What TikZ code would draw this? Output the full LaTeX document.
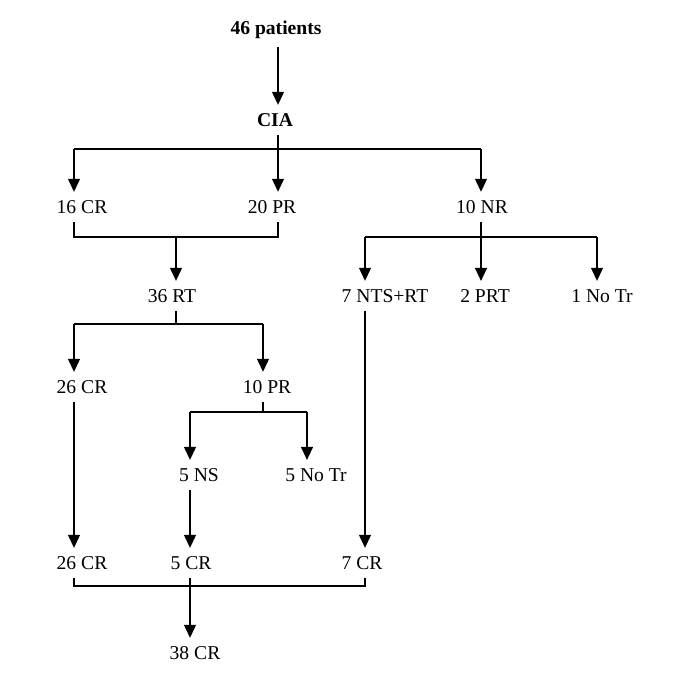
\documentclass[tikz,border=0pt]{standalone}
\usepackage{fontspec}
\setmainfont{Liberation Serif}
\usetikzlibrary{arrows.meta}

\tikzset{
  lbl/.style={inner xsep=0pt, inner ysep=4pt, font=\fontsize{9.8pt}{11pt}\selectfont},
  arr/.style={-{Triangle[length=6.5pt,width=6pt]}},
}

\begin{document}
\begin{tikzpicture}[x=0.5pt, y=-0.5pt, line width=0.6pt]
    \useasboundingbox (0,0) rectangle (685,685);
    % Columns of the connectors
    \coordinate (cA) at (74,0);
    \coordinate (cB) at (176,0);
    \coordinate (cC) at (190,0);
    \coordinate (cD) at (263,0);
    \coordinate (cE) at (278,0);
    \coordinate (cF) at (307,0);
    \coordinate (cG) at (365,0);
    \coordinate (cH) at (481,0);
    \coordinate (cI) at (597,0);
    % Branch rows
    \coordinate (b1) at (0,149);
    \coordinate (b2) at (0,237);
    \coordinate (b3) at (0,324);
    \coordinate (b4) at (0,412);
    \coordinate (b5) at (0,586);
    % Top
    \node[lbl, font=\fontsize{9.8pt}{11pt}\selectfont\bfseries] (pat) at (276,30) {46 patients};
    \node[lbl, font=\fontsize{9.8pt}{11pt}\selectfont\bfseries] (cia) at (275,120) {CIA};
    % Row 1
    \node[lbl] (cr16) at (82,207) {16 CR};
    \node[lbl] (pr20) at (272,207) {20 PR};
    \node[lbl] (nr10) at (482,207) {10 NR};
    % Row 2
    \node[lbl] (rt36) at (172,296) {36 RT};
    \node[lbl] (nts7) at (385,296) {7 NTS+RT};
    \node[lbl] (prt2) at (485,296) {2 PRT};
    \node[lbl] (notr1) at (602,296) {1 No Tr};
    % Row 3
    \node[lbl] (cr26a) at (82,387) {26 CR};
    \node[lbl] (pr10) at (267,387) {10 PR};
    % Row 4
    \node[lbl] (ns5) at (199,475) {5 NS};
    \node[lbl] (notr5) at (316,475) {5 No Tr};
    % Row 5
    \node[lbl] (cr26b) at (82,563) {26 CR};
    \node[lbl] (cr5) at (191,563) {5 CR};
    \node[lbl] (cr7) at (362,563) {7 CR};
    % Bottom
    \node[lbl] (cr38) at (195,653) {38 CR};

    % 46 patients -> CIA
    \draw[arr] (pat.south -| cE) -- (cia.north -| cE);
    % CIA -> CR / PR / NR
    \draw (cia.south -| cE) -- (cE |- b1);
    \draw (cA |- b1) -- (cH |- b1);
    \draw[arr] (cA |- b1) -- (cr16.north -| cA);
    \draw[arr] (cE |- b1) -- (pr20.north -| cE);
    \draw[arr] (cH |- b1) -- (nr10.north -| cH);
    % CR + PR -> RT
    \draw (cr16.south -| cA) -- (cA |- b2) -- (cE |- b2) -- (pr20.south -| cE);
    \draw[arr] (cB |- b2) -- (rt36.north -| cB);
    % NR -> three
    \draw (nr10.south -| cH) -- (cH |- b2);
    \draw (cG |- b2) -- (cI |- b2);
    \draw[arr] (cG |- b2) -- (nts7.north -| cG);
    \draw[arr] (cH |- b2) -- (prt2.north -| cH);
    \draw[arr] (cI |- b2) -- (notr1.north -| cI);
    % RT -> CR / PR
    \draw (rt36.south -| cB) -- (cB |- b3);
    \draw (cA |- b3) -- (cD |- b3);
    \draw[arr] (cA |- b3) -- (cr26a.north -| cA);
    \draw[arr] (cD |- b3) -- (pr10.north -| cD);
    % PR -> NS / No Tr
    \draw (pr10.south -| cD) -- (cD |- b4);
    \draw (cC |- b4) -- (cF |- b4);
    \draw[arr] (cC |- b4) -- (ns5.north -| cC);
    \draw[arr] (cF |- b4) -- (notr5.north -| cF);
    % Long arrows
    \draw[arr] (cr26a.south -| cA) -- (cr26b.north -| cA);
    \draw[arr] (ns5.south -| cC) -- (cr5.north -| cC);
    \draw[arr] (nts7.south -| cG) -- (cr7.north -| cG);
    % Join -> 38 CR
    \draw (cr26b.south -| cA) -- (cA |- b5) -- (cG |- b5) -- (cr7.south -| cG);
    \draw[arr] (cr5.south -| cC) -- (cr38.north -| cC);
\end{tikzpicture}
\end{document}
